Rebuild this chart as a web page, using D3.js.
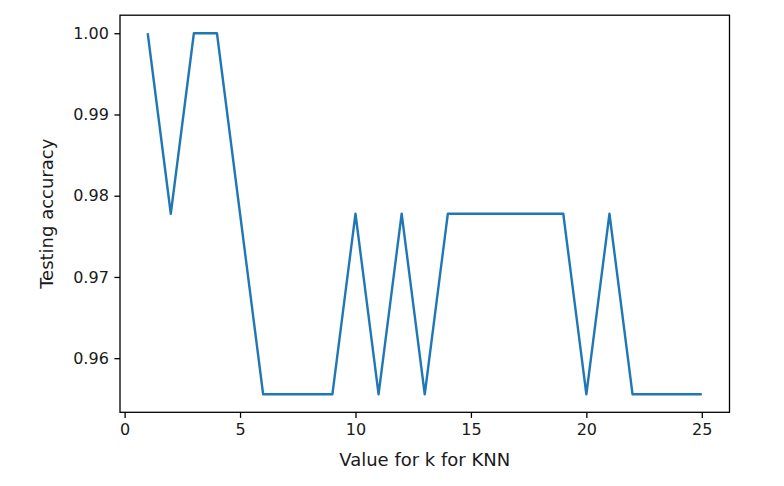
<!DOCTYPE html>
<html>
<head>
<meta charset="utf-8">
<script src="https://cdn.jsdelivr.net/npm/d3@7"></script>
<style>
html,body{margin:0;padding:0;background:#fff;}
svg{display:block;}
text{font-family:"DejaVu Sans",sans-serif;fill:#1a1a1a;}
</style>
</head>
<body>
<svg id="chart" width="784" height="486"></svg>
<script>
const kValues = [1,2,3,4,5,6,7,8,9,10,11,12,13,14,15,16,17,18,19,20,21,22,23,24,25];
const accuracy = [1.0,0.97778,1.0,1.0,0.97778,0.95556,0.95556,0.95556,0.95556,0.97778,0.95556,0.97778,0.95556,0.97778,0.97778,0.97778,0.97778,0.97778,0.97778,0.95556,0.97778,0.95556,0.95556,0.95556,0.95556];
const xTicks = [0,5,10,15,20,25];
const yTicks = [0.96,0.97,0.98,0.99,1.00];
const xLabel = "Value for k for KNN";
const yLabel = "Testing accuracy";

const svg = d3.select("#chart");
const L = 120, R = 729.5, T = 15.2, B = 412.3;

const x = d3.scaleLinear().domain([-0.2, 26.2]).range([L, R]);
const yMin = 0.95556, yMax = 1.0, pad = (yMax - yMin) * 0.05;
const y = d3.scaleLinear().domain([yMin - pad, yMax + pad]).range([B, T]);

const line = d3.line().x((d,i) => x(kValues[i])).y(d => y(d));
svg.append("path")
  .datum(accuracy)
  .attr("d", line)
  .attr("fill", "none")
  .attr("stroke", "#1f77b4")
  .attr("stroke-width", 2.4)
  .attr("stroke-linejoin", "round")
  .attr("stroke-linecap", "butt");

const xAxis = svg.append("g")
  .attr("transform", `translate(0,${B})`)
  .call(d3.axisBottom(x).tickValues(xTicks).tickFormat(d3.format("d")).tickSize(5.6).tickPadding(5.6));
const yAxis = svg.append("g")
  .attr("transform", `translate(${L},0)`)
  .call(d3.axisLeft(y).tickValues(yTicks).tickFormat(d3.format(".2f")).tickSize(5.6).tickPadding(5.6));

[xAxis, yAxis].forEach(g => {
  g.select(".domain").remove();
  g.selectAll(".tick line").attr("stroke", "#000").attr("stroke-width", 1.3);
  g.selectAll(".tick text").attr("font-size", 16).attr("font-family", "DejaVu Sans").attr("fill", "#1a1a1a");
});

svg.append("rect")
  .attr("x", L).attr("y", T).attr("width", R - L).attr("height", B - T)
  .attr("fill", "none").attr("stroke", "#000").attr("stroke-width", 1.3);

svg.append("text")
  .attr("x", (L + R) / 2).attr("y", 466)
  .attr("text-anchor", "middle").attr("font-size", 18)
  .text(xLabel);

svg.append("text")
  .attr("transform", `translate(53,${(T + B) / 2}) rotate(-90)`)
  .attr("text-anchor", "middle").attr("font-size", 18)
  .text(yLabel);
</script>
</body>
</html>
